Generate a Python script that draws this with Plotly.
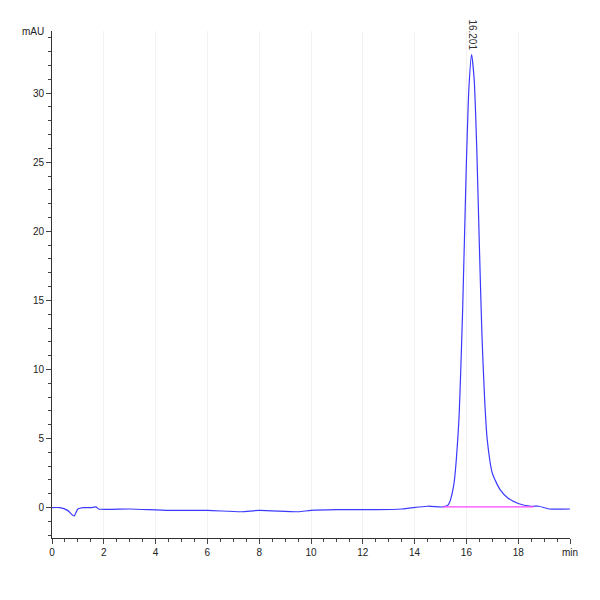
import plotly.graph_objects as go

time_min = [0, 0.3, 0.6, 0.85, 1.0, 1.2, 1.5, 1.7, 1.8, 3, 4.5, 6, 7.3, 8, 9.5, 10, 11, 12.5, 13.5, 14.5,
            15.1, 15.3, 15.5, 15.7, 15.85, 16.0, 16.1, 16.2, 16.3, 16.4, 16.5, 16.6, 16.7, 16.8, 17.0,
            17.3, 17.6, 18.0, 18.5, 18.8, 19.2, 20.0]
signal_mau = [0.0, 0.0, -0.2, -0.6, -0.1, 0.0, 0.0, 0.05, -0.1, -0.1, -0.2, -0.2, -0.3, -0.2, -0.3, -0.2,
              -0.15, -0.15, -0.1, 0.1, 0.05, 0.2, 1.5, 6, 14, 25, 30.5, 32.8, 31, 26, 19, 12.5, 8, 5, 2.5,
              1.3, 0.7, 0.3, 0.1, 0.1, -0.1, -0.1]
baseline_x = [15.1, 18.6]
baseline_y = [0.05, 0.05]
peak_rt = 16.201
peak_h = 32.8

fig = go.Figure()
fig.add_trace(go.Scatter(x=time_min, y=signal_mau, mode="lines", line=dict(color="#3a3aff", width=1.2, shape="spline", smoothing=0.6)))
fig.add_trace(go.Scatter(x=baseline_x, y=baseline_y, mode="lines", line=dict(color="#ff44ff", width=1.2)))
fig.add_annotation(x=peak_rt, y=peak_h, text=f"{peak_rt:.3f}", textangle=90, showarrow=False,
                   yanchor="bottom", yshift=2, font=dict(size=10, color="#333", family="Liberation Sans"))
fig.update_layout(
    width=600, height=600, showlegend=False, plot_bgcolor="white", paper_bgcolor="white",
    margin=dict(l=44, r=38, t=23, b=70),
    font=dict(family="Liberation Sans", size=10, color="#222"),
    xaxis=dict(range=[0, 20], tickvals=[0, 2, 4, 6, 8, 10, 12, 14, 16, 18, 20],
               ticktext=["0", "2", "4", "6", "8", "10", "12", "14", "16", "18", "min"],
               showline=True, linecolor="#333", ticks="outside", ticklen=5,
               minor=dict(dtick=0.5, ticks="outside", ticklen=3), showgrid=True, gridcolor="#f2f2f2",
               zeroline=False),
    yaxis=dict(range=[-2.2, 34.5], tickvals=[0, 5, 10, 15, 20, 25, 30],
               showline=True, linecolor="#333", ticks="outside", ticklen=5,
               minor=dict(dtick=1, ticks="outside", ticklen=3), showgrid=False, zeroline=False),
)
fig.add_annotation(x=0, y=34.5, xref="x", yref="y", text="mAU", showarrow=False, xanchor="right",
                   xshift=-6, yanchor="middle", font=dict(size=10))
fig.write_html("out.html")
